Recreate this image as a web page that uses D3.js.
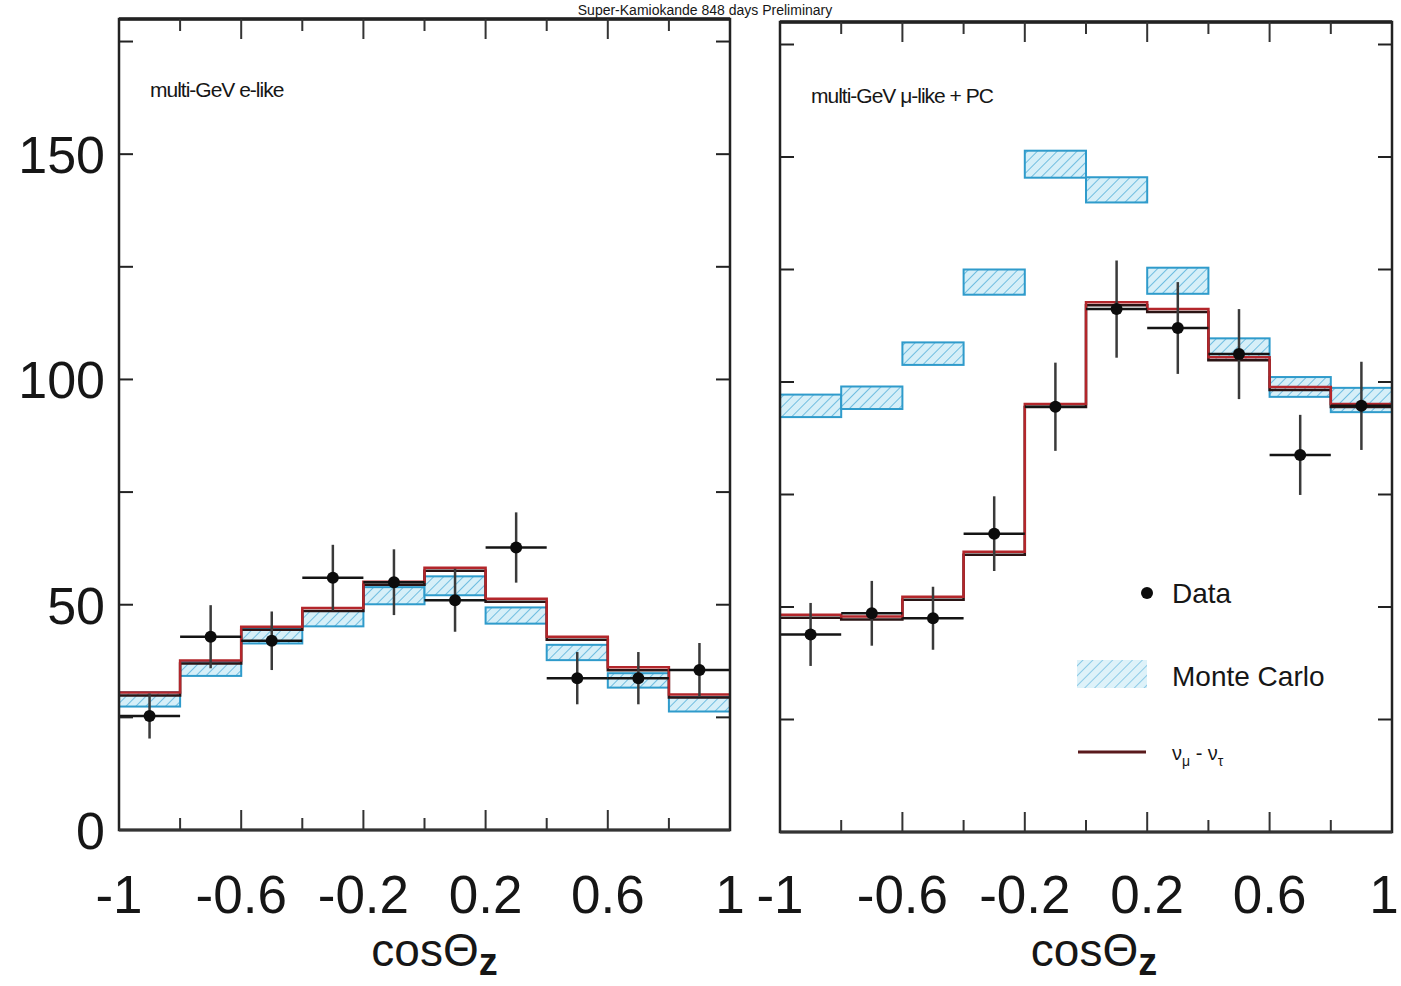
<!DOCTYPE html>
<html>
<head>
<meta charset="utf-8">
<script src="https://cdn.jsdelivr.net/npm/d3@7"></script>
<style>
  body { margin: 0; background: #fff; }
  svg { display: block; }
  text { font-family: "Liberation Sans", Arial, Helvetica, sans-serif; fill: #161616; }
</style>
</head>
<body>
<svg id="chart" width="1401" height="986"></svg>
<script>
// low edge of each cos(theta_z) bin
var binEdges = [-1, -0.8, -0.6, -0.4, -0.2, 0, 0.2, 0.4, 0.6, 0.8];
var binWidth = 0.2;
var xTickLabels = ["-1", "-0.6", "-0.2", "0.2", "0.6", "1"];
var xLabelValues = [-1, -0.6, -0.2, 0.2, 0.6, 1];
var yTickLabels = [0, 50, 100, 150];

// multi-GeV e-like
var eData = [25.3, 42.9, 42.0, 56.0, 55.0, 51.0, 62.7, 33.7, 33.7, 35.5];
var eDataErr = [5.0, 7.0, 6.5, 7.3, 7.3, 7.0, 7.8, 5.8, 5.8, 6.0];
var eMC = [29.0, 35.8, 43.0, 46.9, 52.0, 54.2, 47.6, 39.4, 33.2, 27.9];
var eMCErr = [1.6, 1.6, 1.6, 1.7, 1.9, 2.1, 1.8, 1.7, 1.6, 1.6];
var eOsc = [30.5, 37.6, 45.1, 49.3, 55.1, 58.2, 51.3, 42.9, 36.1, 30.1];

// multi-GeV mu-like + PC
var muData = [43.9, 48.6, 47.5, 66.3, 94.5, 116.2, 112.0, 106.2, 83.8, 94.7];
var muDataErr = [7.0, 7.2, 7.0, 8.3, 9.8, 10.8, 10.2, 10.0, 8.9, 9.8];
var muMC = [94.7, 96.5, 106.3, 122.2, 148.4, 142.7, 122.5, 107.3, 98.9, 96.0];
var muMCErr = [2.5, 2.5, 2.5, 2.8, 3.0, 2.8, 2.9, 2.4, 2.2, 2.7];
var muOsc = [48.3, 47.9, 52.3, 62.3, 95.1, 117.7, 116.2, 105.5, 98.9, 95.1];

var svg = d3.select("#chart");

// hatch for the Monte Carlo boxes
var defs = svg.append("defs");
var pat = defs.append("pattern")
    .attr("id", "hatch")
    .attr("patternUnits", "userSpaceOnUse")
    .attr("width", 7)
    .attr("height", 7)
    .attr("patternTransform", "rotate(45)");
pat.append("rect").attr("width", 7).attr("height", 7).attr("fill", "#d6eff8");
pat.append("line")
    .attr("x1", 0).attr("y1", 0).attr("x2", 0).attr("y2", 7)
    .attr("stroke", "#6fbde0").attr("stroke-width", 2);

// title at the very top of the scan
svg.append("text")
    .attr("x", 705)
    .attr("y", 15)
    .attr("text-anchor", "middle")
    .attr("font-size", 14)
    .attr("fill", "#555")
    .text("Super-Kamiokande 848 days Preliminary");

var panels = [
    { left: 119, right: 730, top: 19, bottom: 830, label: "multi-GeV e-like", labelX: 150, labelY: 97,
      data: eData, dataErr: eDataErr, mc: eMC, mcErr: eMCErr, osc: eOsc, yLabels: true, titleShift: 10 },
    { left: 780, right: 1392, top: 22, bottom: 832, label: "multi-GeV \u03bc-like + PC", labelX: 811, labelY: 103,
      data: muData, dataErr: muDataErr, mc: muMC, mcErr: muMCErr, osc: muOsc, yLabels: false, titleShift: 8 }
];

panels.forEach(function (p, pi) {
    var x = d3.scaleLinear().domain([-1, 1]).range([p.left, p.right]);
    var y = d3.scaleLinear().domain([0, 180]).range([p.bottom, p.top]);
    var g = svg.append("g");

    // Monte Carlo boxes
    g.selectAll("rect.mc")
        .data(p.mc)
        .enter()
        .append("rect")
        .attr("class", "mc")
        .attr("x", function (d, i) { return x(binEdges[i]); })
        .attr("width", function (d, i) { return x(binEdges[i] + binWidth) - x(binEdges[i]); })
        .attr("y", function (d, i) { return y(d + p.mcErr[i]); })
        .attr("height", function (d, i) { return y(d - p.mcErr[i]) - y(d + p.mcErr[i]); })
        .attr("fill", "url(#hatch)")
        .attr("stroke", "#2f9bcb")
        .attr("stroke-width", 2);

    // oscillation expectation as a step line
    var pts = p.osc.map(function (d, i) { return [binEdges[i], d]; });
    pts.push([1, p.osc[p.osc.length - 1]]);
    var step = d3.line()
        .x(function (d) { return x(d[0]); })
        .y(function (d) { return y(d[1]); })
        .curve(d3.curveStepAfter);
    g.append("path")
        .attr("d", step(pts))
        .attr("transform", "translate(0,3)")
        .attr("fill", "none")
        .attr("stroke", "#2a1414")
        .attr("stroke-width", 2.5);
    g.append("path")
        .attr("d", step(pts))
        .attr("fill", "none")
        .attr("stroke", "#b3262b")
        .attr("stroke-width", 2.5);

    // data points with error bars
    var pt = g.selectAll("g.pt")
        .data(p.data)
        .enter()
        .append("g")
        .attr("class", "pt");
    pt.append("line")
        .attr("x1", function (d, i) { return x(binEdges[i]); })
        .attr("x2", function (d, i) { return x(binEdges[i] + binWidth); })
        .attr("y1", function (d) { return y(d); })
        .attr("y2", function (d) { return y(d); })
        .attr("stroke", "#141414")
        .attr("stroke-width", 2.5);
    pt.append("line")
        .attr("x1", function (d, i) { return x(binEdges[i] + binWidth / 2); })
        .attr("x2", function (d, i) { return x(binEdges[i] + binWidth / 2); })
        .attr("y1", function (d, i) { return y(d + p.dataErr[i]); })
        .attr("y2", function (d, i) { return y(d - p.dataErr[i]); })
        .attr("stroke", "#3a3a3a")
        .attr("stroke-width", 2.5);
    pt.append("circle")
        .attr("cx", function (d, i) { return x(binEdges[i] + binWidth / 2); })
        .attr("cy", function (d) { return y(d); })
        .attr("r", 6)
        .attr("fill", "#0c0c0c");

    // frame
    g.append("rect")
        .attr("x", p.left).attr("y", p.top)
        .attr("width", p.right - p.left).attr("height", p.bottom - p.top)
        .attr("fill", "none")
        .attr("stroke", "#222")
        .attr("stroke-width", 2.5);
    g.append("line")
        .attr("x1", p.left).attr("x2", p.right)
        .attr("y1", p.top).attr("y2", p.top)
        .attr("stroke", "#222").attr("stroke-width", 3.5);
    g.append("line")
        .attr("x1", p.left).attr("x2", p.right)
        .attr("y1", p.bottom).attr("y2", p.bottom)
        .attr("stroke", "#333").attr("stroke-width", 3);

    // inward ticks on all four sides
    var xt = d3.range(-0.8, 0.81, 0.2).map(function (v) { return Math.round(v * 10) / 10; });
    xt.forEach(function (v) {
        var major = xLabelValues.indexOf(v) >= 0;
        var len = major ? 20 : 12;
        g.append("line").attr("x1", x(v)).attr("x2", x(v))
            .attr("y1", p.bottom).attr("y2", p.bottom - len)
            .attr("stroke", "#333").attr("stroke-width", 2);
        g.append("line").attr("x1", x(v)).attr("x2", x(v))
            .attr("y1", p.top).attr("y2", p.top + len)
            .attr("stroke", "#333").attr("stroke-width", 2);
    });
    d3.range(25, 180, 25).forEach(function (v) {
        g.append("line").attr("x1", p.left).attr("x2", p.left + 14)
            .attr("y1", y(v)).attr("y2", y(v))
            .attr("stroke", "#222").attr("stroke-width", 2);
        g.append("line").attr("x1", p.right).attr("x2", p.right - 14)
            .attr("y1", y(v)).attr("y2", y(v))
            .attr("stroke", "#222").attr("stroke-width", 2);
    });

    // tick labels
    g.selectAll("text.xl")
        .data(xLabelValues)
        .enter()
        .append("text")
        .attr("class", "xl")
        .attr("x", function (d) { return x(d); })
        .attr("dx", function (d) { return (pi == 1 && d == 1) ? -8 : 0; })
        .attr("y", 913)
        .attr("text-anchor", "middle")
        .attr("font-size", 53)
        .text(function (d, i) { return xTickLabels[i]; });

    if (p.yLabels) {
        g.selectAll("text.yl")
            .data(yTickLabels)
            .enter()
            .append("text")
            .attr("class", "yl")
            .attr("x", p.left - 14)
            .attr("y", function (d) { return y(d) + 19; })
            .attr("text-anchor", "end")
            .attr("font-size", 52)
            .text(function (d) { return d; });
    }

    // axis title
    var t = g.append("text")
        .attr("x", (p.left + p.right) / 2 + p.titleShift)
        .attr("y", 966)
        .attr("text-anchor", "middle")
        .attr("font-size", 46);
    t.append("tspan").text("cos\u0398");
    t.append("tspan").attr("dy", 9).attr("font-size", 38).attr("font-weight", "bold").text("z");

    // panel label
    g.append("text")
        .attr("x", p.labelX)
        .attr("y", p.labelY)
        .attr("font-size", 21)
        .attr("letter-spacing", -1)
        .text(p.label);
});

// legend in the right panel
var lg = svg.append("g");
lg.append("circle").attr("cx", 1147).attr("cy", 593).attr("r", 6).attr("fill", "#0c0c0c");
lg.append("text").attr("x", 1172).attr("y", 603).attr("font-size", 28).text("Data");
lg.append("rect").attr("x", 1077).attr("y", 660).attr("width", 70).attr("height", 28)
    .attr("fill", "url(#hatch)").attr("opacity", 0.8);
lg.append("text").attr("x", 1172).attr("y", 686).attr("font-size", 28).text("Monte Carlo");
lg.append("line").attr("x1", 1078).attr("x2", 1146).attr("y1", 752).attr("y2", 752)
    .attr("stroke", "#5a1a1c").attr("stroke-width", 3);
var nu = lg.append("text").attr("x", 1172).attr("y", 760).attr("font-size", 20);
nu.append("tspan").text("\u03bd");
nu.append("tspan").attr("dy", 6).attr("font-size", 14).text("\u03bc");
nu.append("tspan").attr("dy", -6).text(" - \u03bd");
nu.append("tspan").attr("dy", 6).attr("font-size", 14).text("\u03c4");
</script>
</body>
</html>
